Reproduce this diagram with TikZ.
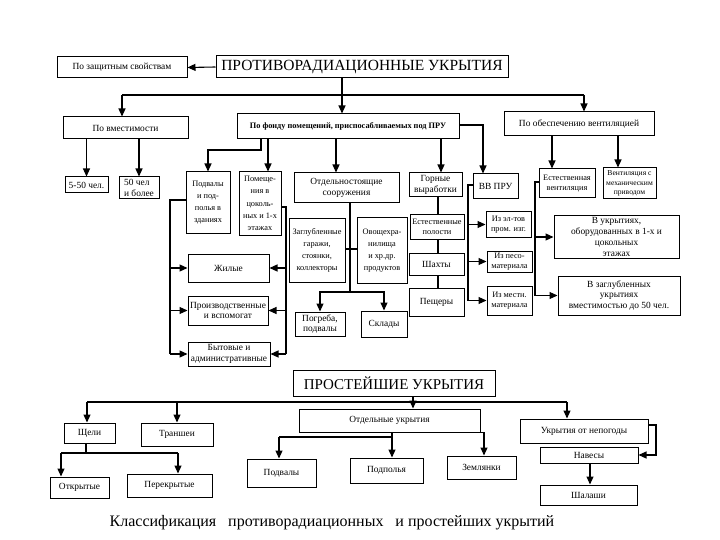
\documentclass[tikz,border=0pt]{standalone}
\usepackage{fontspec}
\setmainfont{Liberation Serif}
\usetikzlibrary{arrows.meta}
\tikzset{
  box/.style={draw, line width=1pt, inner sep=0.5pt, align=center, font=\fontsize{9.4}{10.8}\selectfont},
  sm/.style={font=\fontsize{8.3}{9.8}\selectfont},
  smt/.style={font=\fontsize{8.3}{12.2}\selectfont},
  conn/.style={line width=1.1pt},
  arr/.style={conn, -{Triangle[length=8pt,width=7pt]}},
}
\newcommand{\bx}[7][]{%
  \pgfmathsetmacro\bxw{#5-#3}\pgfmathsetmacro\bxh{#6-#4}%
  \pgfmathsetmacro\bxcx{(#3+#5)/2}\pgfmathsetmacro\bxcy{(#4+#6)/2}%
  \node[box,minimum width=\bxw pt,minimum height=\bxh pt,#1] (#2) at (\bxcx,\bxcy) {#7};}
\begin{document}
\begin{tikzpicture}[x=1pt,y=-1pt]
\useasboundingbox[fill=white] (0,0) rectangle (720,540);
% ---- upper part
\bx[font=\fontsize{15.5}{17}\selectfont]{t1}{216}{56}{508}{78}{ПРОТИВОРАДИАЦИОННЫЕ УКРЫТИЯ}
\bx{zash}{57}{57}{187}{78}{По защитным свойствам}
\bx{vmest}{63}{117}{188}{139}{По вместимости}
\bx[font=\bfseries\fontsize{8.3}{9}\selectfont]{fond}{237}{114}{459}{139}{По фонду помещений, приспосабливаемых под ПРУ}
\bx{vent}{504}{112}{654}{136}{По обеспечению вентиляцией}
\bx{c1}{65}{177}{108}{193}{5-50 чел.}
\bx[align=left]{c2}{119}{177}{159}{199}{50 чел\\и более}
\bx[smt]{podv}{186}{172}{230}{233}{Подвалы\\и под-\\полья в\\зданиях}
\bx[smt]{pom}{239}{172}{281}{235}{Помеще-\\ния в\\цоколь-\\ных и 1-х\\этажах}
\bx{otd}{294}{173}{399}{203}{Отдельностоящие\\сооружения}
\bx{gor}{409}{173}{462}{197}{Горные\\выработки}
\bx{vv}{473}{174}{518}{199}{ВВ ПРУ}
\bx[sm]{est}{539}{169}{595}{198}{Естественная\\вентиляция}
\bx[font=\fontsize{7.6}{9.5}\selectfont]{mech}{603}{168}{656}{199}{Вентиляция с\\механическим\\приводом}
\bx{zhil}{188}{254}{269}{282}{Жилые}
\bx{proizv}{188}{296}{268}{325}{Производственные\\и вспомогат}
\bx{byt}{188}{342}{270}{366}{Бытовые и\\административные}
\bx[smt]{zagl}{289}{219}{345}{282}{Заглубленные\\гаражи,\\стоянки,\\коллекторы}
\bx[smt]{ovosh}{357}{218}{407}{283}{Овощехра-\\нилища\\и хр.др.\\продуктов}
\bx{pogr}{295}{312}{345}{336}{Погреба,\\подвалы}
\bx{sklad}{361}{311}{407}{337}{Склады}
\bx[sm]{estp}{410}{215}{464}{239}{Естественные\\полости}
\bx{shah}{409}{253}{464}{275}{Шахты}
\bx{pesh}{409}{288}{464}{316}{Пещеры}
\bx[sm]{izel}{486}{212}{531}{237}{Из эл-тов\\пром. изг.}
\bx[sm]{izpes}{487}{251}{532}{272}{Из песо-\\материала}
\bx[sm]{izmest}{487}{286}{532}{315}{Из местн.\\материала}
\bx{v1}{554}{216}{679}{258}{В укрытиях,\\оборудованных в 1-х и\\цокольных\\этажах}
\bx{v2}{558}{276}{680}{315}{В заглубленных\\укрытиях\\вместимостью до 50 чел.}
% ---- lower part
\bx[font=\fontsize{15}{17}\selectfont]{t2}{293}{370}{495}{396}{ПРОСТЕЙШИЕ УКРЫТИЯ}
\bx{shel}{64}{423}{115}{443}{Щели}
\bx{transh}{141}{423}{213}{446}{Траншеи}
\bx{otkr}{50}{477}{109}{498}{Открытые}
\bx{perekr}{127}{474}{212}{497}{Перекрытые}
\bx{otdu}{299}{409}{480}{432}{Отдельные укрытия}
\bx{podvb}{247}{459}{316}{487}{Подвалы}
\bx{podp}{350}{458}{423}{483}{Подполья}
\bx{zeml}{447}{456}{516}{479}{Землянки}
\bx{nepog}{520}{419}{648}{443}{Укрытия от непогоды}
\bx{naves}{540}{447}{638}{463}{Навесы}
\bx{shal}{540}{485}{637}{505}{Шалаши}
\node[font=\fontsize{16}{18}\selectfont, inner sep=0pt] (cap) at (332,523) {Классификация\hspace{0.5em} противорадиационных\hspace{0.5em} и простейших укрытий};
% ---- junction coordinates
\coordinate (j1) at (342,95);
\coordinate (jl) at (122,95);
\coordinate (jr) at (584,95);
\coordinate (xa) at (261,150);
\coordinate (xb) at (268,0);
\coordinate (xc) at (336,0);
\coordinate (xd) at (441,0);
\coordinate (xe) at (483,125);
\coordinate (bl) at (170,200);
\coordinate (br) at (286,207);
\coordinate (og) at (350,292);
\coordinate (oh) at (350,249);
\coordinate (gx) at (438,0);
\coordinate (vx) at (468,185);
\coordinate (vex) at (552,0);
\coordinate (vfx) at (618,0);
\coordinate (ex) at (535,182);
\coordinate (k) at (413,402);
\coordinate (kl) at (87,402);
\coordinate (kr) at (567,402);
\coordinate (sj) at (86,453);
\coordinate (so) at (61,453);
\coordinate (sp) at (178,453);
\coordinate (oj) at (392,437);
\coordinate (ol) at (279,437);
\coordinate (or) at (484,0);
\coordinate (nx) at (656,425);
\coordinate (sx) at (590,0);
% ---- connectors, upper part
\draw[arr] (t1.west) -- (zash.east);
\draw[conn] (t1.south -| j1) -- (j1);
\draw[arr] (j1) -- (fond.north -| j1);
\draw[conn] (jl) -- (jr);
\draw[arr] (jl) -- (vmest.north -| jl);
\draw[arr] (jr) -- (vent.north -| jr);
\draw[arr] (vmest.south -| c1.north) -- (c1.north);
\draw[arr] (vmest.south -| c2.north) -- (c2.north);
\draw[arr] (fond.south -| xa) -- (xa) -| (podv.north);
\draw[arr] (fond.south -| xb) -- (pom.north -| xb);
\draw[arr] (fond.south -| xc) -- (otd.north -| xc);
\draw[arr] (fond.south -| xd) -- (gor.north -| xd);
\draw[arr] (fond.east |- xe) -- (xe) -- (vv.north -| xe);
% left and right brackets
\draw[conn] (podv.west |- bl) -- (bl) -- (bl |- byt.west);
\draw[arr] (bl |- zhil.west) -- (zhil.west);
\draw[arr] (bl |- proizv.west) -- (proizv.west);
\draw[arr] (bl |- byt.west) -- (byt.west);
\draw[conn] (pom.east |- br) -- (br) -- (br |- byt.east);
\draw[arr] (br |- zhil.east) -- (zhil.east);
\draw[arr] (br |- proizv.east) -- (proizv.east);
\draw[arr] (br |- byt.east) -- (byt.east);
% free-standing
\draw[conn] (otd.south -| og) -- (og);
\draw[conn] (zagl.east |- oh) -- (ovosh.west |- oh);
\draw[arr] (og) -| (pogr.north);
\draw[arr] (og) -| (sklad.north);
% mines
\draw[conn] (gor.south -| gx) -- (estp.north -| gx);
\draw[conn] (estp.south -| gx) -- (shah.north -| gx);
\draw[conn] (shah.south -| gx) -- (pesh.north -| gx);
% VV PRU
\draw[conn] (vv.west |- vx) -- (vx) -- (vx |- izmest.west);
\draw[arr] (vx |- izel.west) -- (izel.west);
\draw[arr] (vx |- izpes.west) -- (izpes.west);
\draw[arr] (vx |- izmest.west) -- (izmest.west);
% ventilation
\draw[arr] (vent.south -| vex) -- (est.north -| vex);
\draw[arr] (vent.south -| vfx) -- (mech.north -| vfx);
\draw[conn] (est.west |- ex) -- (ex) -- (ex |- v2.west);
\draw[arr] (ex |- v1.west) -- (v1.west);
\draw[arr] (ex |- v2.west) -- (v2.west);
% ---- connectors, lower part
\draw[arr] (t2.south -| k) -- (otdu.north -| k);
\draw[conn] (kl) -- (kr);
\draw[arr] (kl) -- (shel.north -| kl);
\draw[arr] (transh.north |- kl) -- (transh.north);
\draw[arr] (kr) -- (nepog.north -| kr);
\draw[conn] (shel.south -| sj) -- (sj);
\draw[conn] (so) -- (sp);
\draw[arr] (so) -- (otkr.north -| so);
\draw[arr] (sp) -- (perekr.north -| sp);
\draw[arr] (otdu.south -| oj) -- (podp.north -| oj);
\draw[conn] (oj) -- (ol);
\draw[arr] (ol) -- (podvb.north -| ol);
\draw[arr] (otdu.south east) -| (zeml.north -| or);
\draw[arr] (nepog.east |- nx) -- (nx) |- (naves.east);
\draw[arr] (naves.south -| sx) -- (shal.north -| sx);
\end{tikzpicture}
\end{document}
